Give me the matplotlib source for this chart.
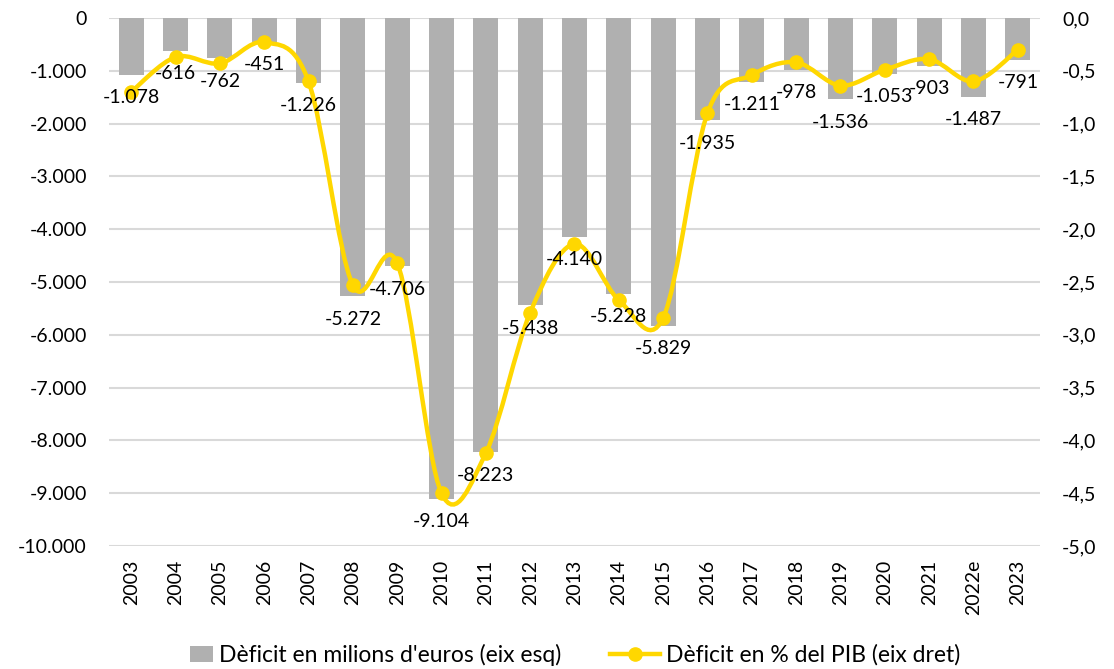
import matplotlib
matplotlib.use("Agg")
import matplotlib.pyplot as plt
import numpy as np
from matplotlib.path import Path
from matplotlib.patches import PathPatch, Patch
from matplotlib.lines import Line2D
from matplotlib.ticker import FuncFormatter

plt.rcParams["font.family"] = ["Lato", "DejaVu Sans"]

years = ["2003", "2004", "2005", "2006", "2007", "2008", "2009", "2010", "2011",
         "2012", "2013", "2014", "2015", "2016", "2017", "2018", "2019", "2020",
         "2021", "2022e", "2023"]
deficit_meur = [-1078, -616, -762, -451, -1226, -5272, -4706, -9104, -8223,
                -5438, -4140, -5228, -5829, -1935, -1211, -978, -1536, -1053,
                -903, -1487, -791]
deficit_pct = [-0.70, -0.37, -0.43, -0.23, -0.60, -2.53, -2.32, -4.50, -4.12,
               -2.79, -2.14, -2.67, -2.84, -0.90, -0.54, -0.42, -0.64, -0.49,
               -0.39, -0.60, -0.30]
legend_labels = ["Dèficit en milions d'euros (eix esq)", "Dèficit en % del PIB (eix dret)"]

BAR_C = "#b0b0b0"
LINE_C = "#ffd700"
GRID_C = "#d9d9d9"
FS = 14


def thousands(v, pos=None):
    s = f"{abs(int(round(v))):,}".replace(",", ".")
    return ("-" if v < 0 else "") + s


def pct_fmt(v, pos=None):
    s = f"{v:.1f}".replace(".", ",")
    return "0,0" if s == "-0,0" else s


def smooth_path(xs, ys):
    # Catmull-Rom style bezier, like Excel's "smoothed line"
    pts = np.column_stack([xs, ys]).astype(float)
    n = len(pts)
    verts = [pts[0]]
    codes = [Path.MOVETO]
    for i in range(n - 1):
        p0 = pts[i - 1] if i > 0 else pts[i]
        p1, p2 = pts[i], pts[i + 1]
        p3 = pts[i + 2] if i + 2 < n else pts[i + 1]
        verts += [p1 + (p2 - p0) / 6, p2 - (p3 - p1) / 6, p2]
        codes += [Path.CURVE4] * 3
    return Path(verts, codes)


fig = plt.figure(figsize=(11.14, 6.69), dpi=100)
ax = fig.add_axes([109 / 1114, 1 - 546 / 669, 931 / 1114, 528 / 669])
ax2 = ax.twinx()

x = np.arange(len(years))
ax.bar(x, deficit_meur, width=0.56, color=BAR_C, zorder=2)

ax.set_ylim(-10000, 0)
ax.set_yticks(np.arange(-10000, 1, 1000))
ax.yaxis.set_major_formatter(FuncFormatter(thousands))
ax.set_xlim(-0.5, len(years) - 0.5)
ax.set_xticks(x)
ax.set_xticklabels(years, rotation=90, fontsize=FS)
ax.tick_params(axis="y", length=0, pad=16, labelsize=FS)
ax.tick_params(axis="x", length=0, pad=10)
ax.grid(axis="y", color=GRID_C, linewidth=1.5, zorder=0)
ax.set_axisbelow(True)
for s in ax.spines.values():
    s.set_visible(False)

ax2.set_ylim(-5.0, 0.0)
ax2.set_yticks(np.arange(-5.0, 0.01, 0.5))
ax2.yaxis.set_major_formatter(FuncFormatter(pct_fmt))
ax2.tick_params(axis="y", length=0, pad=16, labelsize=FS)
for s in ax2.spines.values():
    s.set_visible(False)
ax2.add_patch(PathPatch(smooth_path(x, deficit_pct), facecolor="none",
                        edgecolor=LINE_C, linewidth=3.2, capstyle="round", zorder=4))
ax2.plot(x, deficit_pct, linestyle="none", marker="o", markersize=9.5,
         color=LINE_C, zorder=5)

# bar value labels, drawn on top of the line
for xi, v in zip(x, deficit_meur):
    ax2.annotate(thousands(v), (xi, v), xycoords=ax.transData,
                 xytext=(0, -16.5), textcoords="offset points",
                 ha="center", va="center", fontsize=FS, color="black", zorder=6,
                 annotation_clip=False)

leg_kw = dict(frameon=False, fontsize=16.5, borderpad=0, borderaxespad=0,
              handletextpad=0.25, loc="center left")
fig.legend([Patch(facecolor=BAR_C, edgecolor="none")], legend_labels[:1],
           bbox_to_anchor=(190 / 1114, 1 - 655 / 669), handlelength=1.0,
           handleheight=0.65, **leg_kw)
fig.legend([Line2D([], [], color=LINE_C, linewidth=3.2, marker="o", markersize=9.5)],
           legend_labels[1:], bbox_to_anchor=(610 / 1114, 1 - 655 / 669),
           handlelength=2.2, **leg_kw)

fig.savefig("out.png", dpi=100)
